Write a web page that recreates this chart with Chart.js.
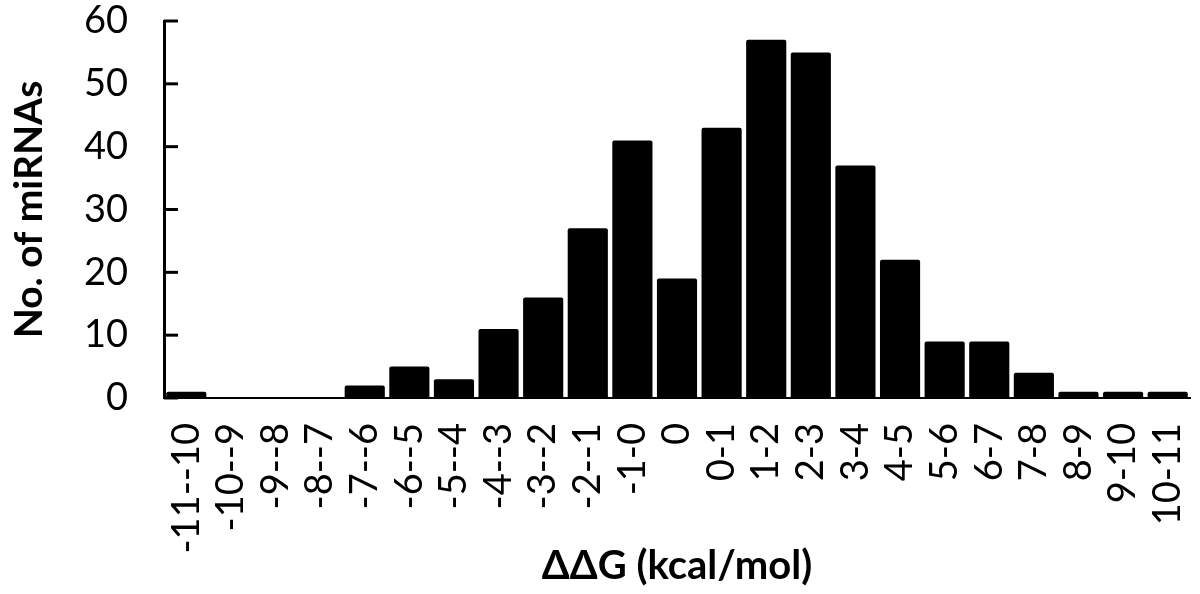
<!DOCTYPE html>
<html>
<head>
<meta charset="utf-8">
<script src="https://cdn.jsdelivr.net/npm/chart.js@4"></script>
<style>
  html, body { margin: 0; background: #fff; }
</style>
</head>
<body>
<canvas id="grafico" width="1200" height="594"></canvas>
<script>
/* ============================================================
   DATOS
============================================================ */
const categorias = ['-11--10', '-10--9', '-9--8', '-8--7', '-7--6', '-6--5', '-5--4', '-4--3', '-3--2', '-2--1', '-1-0', '0',
                    '0-1', '1-2', '2-3', '3-4', '4-5', '5-6', '6-7', '7-8', '8-9', '9-10', '10-11'];
const numMiRNAs  = [1, 0, 0, 0, 2, 5, 3, 11, 16, 27, 41, 19, 43, 57, 55, 37, 22, 9, 9, 4, 1, 1, 1];
const ejeYMin = 0, ejeYMax = 60, ejeYPaso = 10;
const tituloX = 'ΔΔG (kcal/mol)';
const tituloY = 'No. of miRNAs';

const FUENTE = 'Lato, "Open Sans", "DejaVu Sans", sans-serif';

// marcas de eje hacia dentro (como en el original)
const ticksInternos = {
    id: 'ticksInternos',
    afterDraw(chart) {
        const y = chart.scales.y;
        const ctx = chart.ctx;
        ctx.save();
        ctx.strokeStyle = '#000';
        ctx.lineWidth = 3;
        y.ticks.forEach((t, i) => {
            const py = y.getPixelForTick(i);
            ctx.beginPath();
            ctx.moveTo(y.right, py);
            ctx.lineTo(y.right + 14, py);
            ctx.stroke();
        });
        ctx.restore();
    }
};

new Chart(document.getElementById('grafico').getContext('2d'), {
    type: 'bar',
    data: {
        labels: categorias,
        datasets: [{
            data: numMiRNAs,
            backgroundColor: '#000',
            borderRadius: 2,
            borderSkipped: 'bottom',
            barPercentage: 0.9,
            categoryPercentage: 1
        }]
    },
    options: {
        responsive: false,
        animation: false,
        layout: { padding: { top: 21, right: 10, left: 6, bottom: 4 } },
        plugins: { legend: { display: false }, tooltip: { enabled: false } },
        scales: {
            x: {
                grid: { display: false },
                border: { color: '#000', width: 2 },
                ticks: {
                    color: '#000', autoSkip: false, maxRotation: 90, minRotation: 90, padding: 17,
                    font: { family: FUENTE, size: 38 }
                },
                title: {
                    display: true, text: tituloX, color: '#000', padding: { top: 0, bottom: 0 },
                    font: { family: FUENTE, size: 40, weight: 'bold' }
                },
                afterFit(scale) {
                    scale.height = 192;
                    scale.paddingLeft = 0;
                    scale.paddingRight = 0;
                }
            },
            y: {
                min: ejeYMin, max: ejeYMax,
                grid: { display: false, drawTicks: false },
                border: { color: '#000', width: 3 },
                ticks: {
                    stepSize: ejeYPaso, color: '#000', padding: 36,
                    font: { family: FUENTE, size: 38 }
                },
                title: {
                    display: true, text: tituloY, color: '#000', padding: { top: 0, bottom: 0 },
                    font: { family: FUENTE, size: 39, weight: 'bold' }
                },
                afterFit(scale) {
                    scale.width = 158;
                    scale.paddingTop = 0;
                    scale.paddingBottom = 0;
                }
            }
        }
    },
    plugins: [ticksInternos]
});
</script>
</body>
</html>
